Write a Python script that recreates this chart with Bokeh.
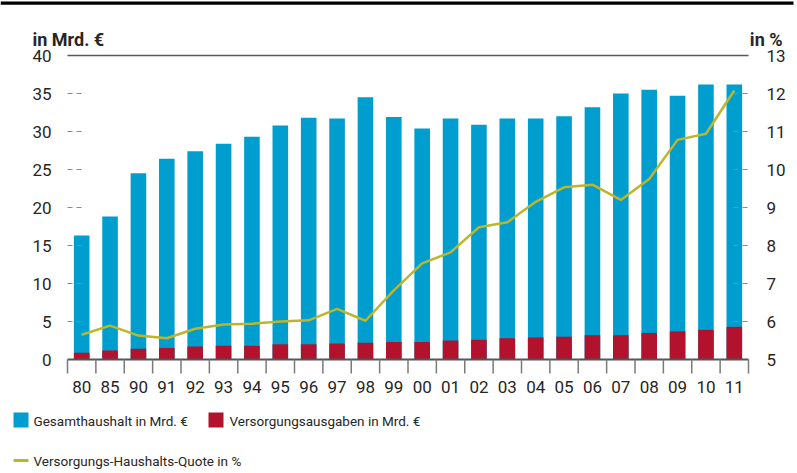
from bokeh.plotting import figure
from bokeh.models import Range1d
from bokeh.core.properties import value
from bokeh.embed import file_html
from bokeh.resources import INLINE

# ---- data ----
years = ["80", "85", "90", "91", "92", "93", "94", "95", "96", "97", "98", "99",
         "00", "01", "02", "03", "04", "05", "06", "07", "08", "09", "10", "11"]
gesamt = [16.3, 18.8, 24.5, 26.4, 27.4, 28.4, 29.3, 30.8, 31.8, 31.7, 34.5, 31.9,
          30.4, 31.7, 30.9, 31.7, 31.7, 32.0, 33.2, 35.0, 35.5, 34.7, 36.2, 36.2]
versorgung = [0.9, 1.2, 1.4, 1.5, 1.7, 1.8, 1.8, 2.0, 2.0, 2.1, 2.2, 2.3,
              2.3, 2.5, 2.6, 2.8, 2.9, 3.0, 3.2, 3.2, 3.5, 3.7, 3.9, 4.3]
quote = [5.65, 5.89, 5.63, 5.56, 5.81, 5.92, 5.94, 6.00, 6.03, 6.33, 6.02, 6.82,
         7.53, 7.82, 8.48, 8.61, 9.15, 9.53, 9.60, 9.20, 9.75, 10.78, 10.94, 12.08]
left_ticks = [0, 5, 10, 15, 20, 25, 30, 35, 40]
right_ticks = [5, 6, 7, 8, 9, 10, 11, 12, 13]
series_names = ["Gesamthaushalt in Mrd. €", "Versorgungsausgaben in Mrd. €",
                "Versorgungs-Haushalts-Quote in %"]
left_unit = "in Mrd. €"
right_unit = "in %"

# ---- style / layout ----
BLUE = "#009ECE"
RED = "#B3122D"
OLIVE = "#BDB52A"
TXT = "#262626"
TICKFONT = value("Roboto")
TEXTFONT = value("Roboto")
W, H = 797, 473
X0, X1 = 67, 748          # plot area left / right (px)
YB, YT = 359, 55          # plot area bottom / top (px)

n = len(years)
L_MIN, L_MAX = left_ticks[0], left_ticks[-1]
R_MIN, R_MAX = right_ticks[0], right_ticks[-1]
ux = (X1 - X0) / n
uy = (YB - YT) / (L_MAX - L_MIN)
ur = (YB - YT) / (R_MAX - R_MIN)


def gx(px):
    return (px - X0) / ux


def gy(py):
    return L_MIN + (YB - py) / uy


p = figure(width=W, height=H, min_border=0, output_backend="svg",
           toolbar_location=None, tools="",
           x_range=Range1d(gx(0), gx(W)), y_range=Range1d(gy(H), gy(0)),
           x_axis_location=None, y_axis_location=None)
p.extra_y_ranges = {"pct": Range1d(R_MIN - (H - YB) / ur, R_MIN + YB / ur)}
p.outline_line_color = None
p.xgrid.visible = False
p.ygrid.visible = False

xs = [i + 0.5 for i in range(n)]

# black top rule
p.quad(left=[gx(0)], right=[gx(793)], top=[gy(1)], bottom=[gy(4.3)],
       fill_color="black", line_color=None)

# unit labels
p.text(x=[gx(32)], y=[gy(39)], text=[left_unit], text_font=TEXTFONT,
       text_font_size=value("18px"), text_font_style="bold", text_color=TXT,
       text_baseline="alphabetic", text_align="left")
p.text(x=[gx(782)], y=[gy(39)], text=[right_unit], text_font=TEXTFONT,
       text_font_size=value("18px"), text_font_style="bold", text_color=TXT,
       text_baseline="alphabetic", text_align="right")

# bars and line
r_blue = p.vbar(x=xs, top=gesamt, width=0.55, fill_color=BLUE, line_color=None)
r_red = p.vbar(x=xs, top=versorgung, width=0.55, fill_color=RED, line_color=None)
r_line = p.line(x=xs, y=quote, y_range_name="pct", line_color=OLIVE, line_width=2.5,
                line_join="round")

# top rule at 40
p.segment(x0=[0], x1=[n], y0=[L_MAX], y1=[L_MAX], line_color="#5a5a5a", line_width=1.4)

# left ticks (dashed, inward) and labels
inner = [t for t in left_ticks if L_MIN < t < L_MAX]
p.segment(x0=[0] * len(inner), x1=[15 / ux] * len(inner), y0=inner, y1=inner,
          line_color="#8a8a8a", line_width=1, line_dash="5 4")
p.text(x=[gx(51)] * len(left_ticks), y=left_ticks, text=[str(t) for t in left_ticks],
       text_font=TICKFONT, text_font_size=value("17px"), text_color=TXT,
       text_align="right", text_baseline="middle")

# right ticks and labels
rinner = [t for t in right_ticks if R_MIN < t < R_MAX]
p.segment(x0=[n - 15 / ux] * len(rinner), x1=[n] * len(rinner), y0=rinner, y1=rinner,
          y_range_name="pct", line_color="#8a8a8a", line_width=1, line_dash="5 4")
p.text(x=[gx(766)] * len(right_ticks), y=right_ticks, text=[str(t) for t in right_ticks],
       y_range_name="pct", text_font=TICKFONT, text_font_size=value("17px"),
       text_color=TXT, text_align="left", text_baseline="middle")

# x axis line, boundary ticks and labels
p.segment(x0=[0], x1=[n], y0=[L_MIN], y1=[L_MIN], line_color="#555555", line_width=1.8)
bnd = list(range(n + 1))
p.segment(x0=bnd, x1=bnd, y0=[L_MIN] * len(bnd), y1=[L_MIN - 14 / uy] * len(bnd),
          line_color="#7a7a7a", line_width=1.5)
p.text(x=xs, y=[gy(386)] * n, text=years, text_font=TICKFONT,
       text_font_size=value("17px"), text_color=TXT, text_align="center",
       text_baseline="middle")

# legend
p.quad(left=[gx(13), gx(208)], right=[gx(28), gx(223)], top=[gy(412)] * 2,
       bottom=[gy(427)] * 2, fill_color=[BLUE, RED], line_color=None)
p.segment(x0=[gx(13)], x1=[gx(28)], y0=[gy(460)], y1=[gy(460)], line_color=OLIVE,
          line_width=3)
p.text(x=[gx(33), gx(229), gx(33)], y=[gy(420), gy(420), gy(460)], text=series_names,
       text_font=TEXTFONT, text_font_size=value("13.5px"), text_color=TXT,
       text_align="left", text_baseline="middle")

open("out.html", "w").write(file_html(p, INLINE))
